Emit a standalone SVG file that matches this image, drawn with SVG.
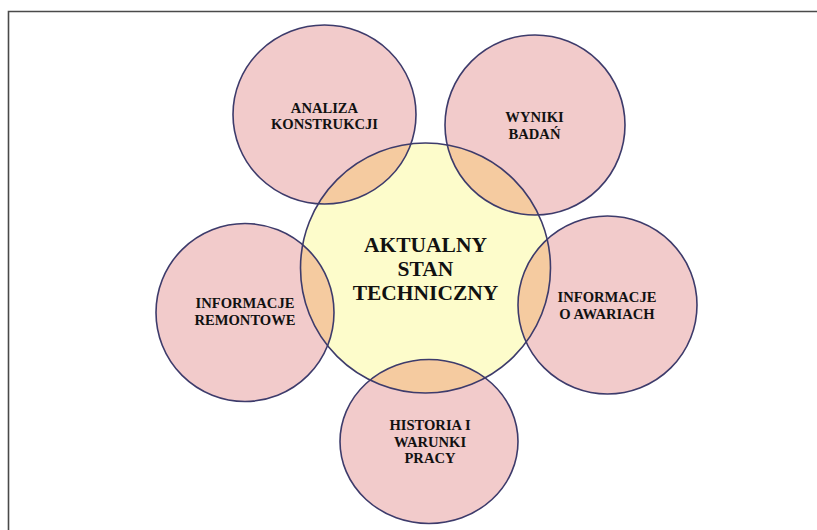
<svg xmlns="http://www.w3.org/2000/svg" width="817" height="530" viewBox="0 0 817 530">
  <style>
    .sat { fill: #f2cbcb; }
    .hub { fill: #fdfccb; }
    .ov { fill: #f5cba0; }
    .edge { fill: none; stroke: #3d3b6b; stroke-width: 1.6; }
    text { font-family: 'Liberation Serif', 'DejaVu Serif', serif; font-weight: 700; fill: #111; text-anchor: middle; }
    .lbl { font-size: 14.6px; }
    .hublbl { font-size: 21.5px; }
  </style>
  <defs>
    <clipPath id="hubClip"><circle cx="425.5" cy="268" r="125"/></clipPath>
  </defs>
  <rect width="817" height="530" fill="#ffffff"/>
  <!-- frame: top and left rules -->
  <path d="M8.5 530 V11.5 H817" fill="none" stroke="#4a4a4a" stroke-width="1.6"/>

  <!-- fills -->
  <g id="hub">
    <circle class="hub" cx="425.5" cy="268" r="125"/>
  </g>
  <g id="analiza">
    <ellipse class="sat" cx="324.5" cy="114.5" rx="91.5" ry="89.5"/>
  </g>
  <g id="wyniki">
    <circle class="sat" cx="535" cy="125" r="90"/>
  </g>
  <g id="awarie">
    <ellipse class="sat" cx="607.5" cy="305" rx="89.5" ry="89"/>
  </g>
  <g id="remonty">
    <circle class="sat" cx="245" cy="312.5" r="89"/>
  </g>
  <g id="historia">
    <ellipse class="sat" cx="429" cy="441.5" rx="89" ry="82"/>
  </g>

  <!-- overlaps with the hub -->
  <g clip-path="url(#hubClip)">
    <ellipse class="ov" cx="324.5" cy="114.5" rx="91.5" ry="89.5"/>
    <circle class="ov" cx="535" cy="125" r="90"/>
    <ellipse class="ov" cx="607.5" cy="305" rx="89.5" ry="89"/>
    <circle class="ov" cx="245" cy="312.5" r="89"/>
    <ellipse class="ov" cx="429" cy="441.5" rx="89" ry="82"/>
  </g>

  <!-- outlines -->
  <g id="outlines">
    <circle class="edge" cx="425.5" cy="268" r="125"/>
    <ellipse class="edge" cx="324.5" cy="114.5" rx="91.5" ry="89.5"/>
    <circle class="edge" cx="535" cy="125" r="90"/>
    <ellipse class="edge" cx="607.5" cy="305" rx="89.5" ry="89"/>
    <circle class="edge" cx="245" cy="312.5" r="89"/>
    <ellipse class="edge" cx="429" cy="441.5" rx="89" ry="82"/>
  </g>

  <!-- labels -->
  <g id="labels">
    <text class="hublbl" x="425.5" y="252">AKTUALNY</text>
    <text class="hublbl" x="425.5" y="276">STAN</text>
    <text class="hublbl" x="425.5" y="300">TECHNICZNY</text>

    <text class="lbl" x="324.5" y="113">ANALIZA</text>
    <text class="lbl" x="324.5" y="129">KONSTRUKCJI</text>

    <text class="lbl" x="534.5" y="122">WYNIKI</text>
    <text class="lbl" x="534.5" y="139">BADAŃ</text>

    <text class="lbl" x="607" y="302">INFORMACJE</text>
    <text class="lbl" x="607" y="319">O AWARIACH</text>

    <text class="lbl" x="245" y="308">INFORMACJE</text>
    <text class="lbl" x="245" y="325">REMONTOWE</text>

    <text class="lbl" x="430" y="430">HISTORIA I</text>
    <text class="lbl" x="430" y="447">WARUNKI</text>
    <text class="lbl" x="430" y="463">PRACY</text>
  </g>
</svg>
